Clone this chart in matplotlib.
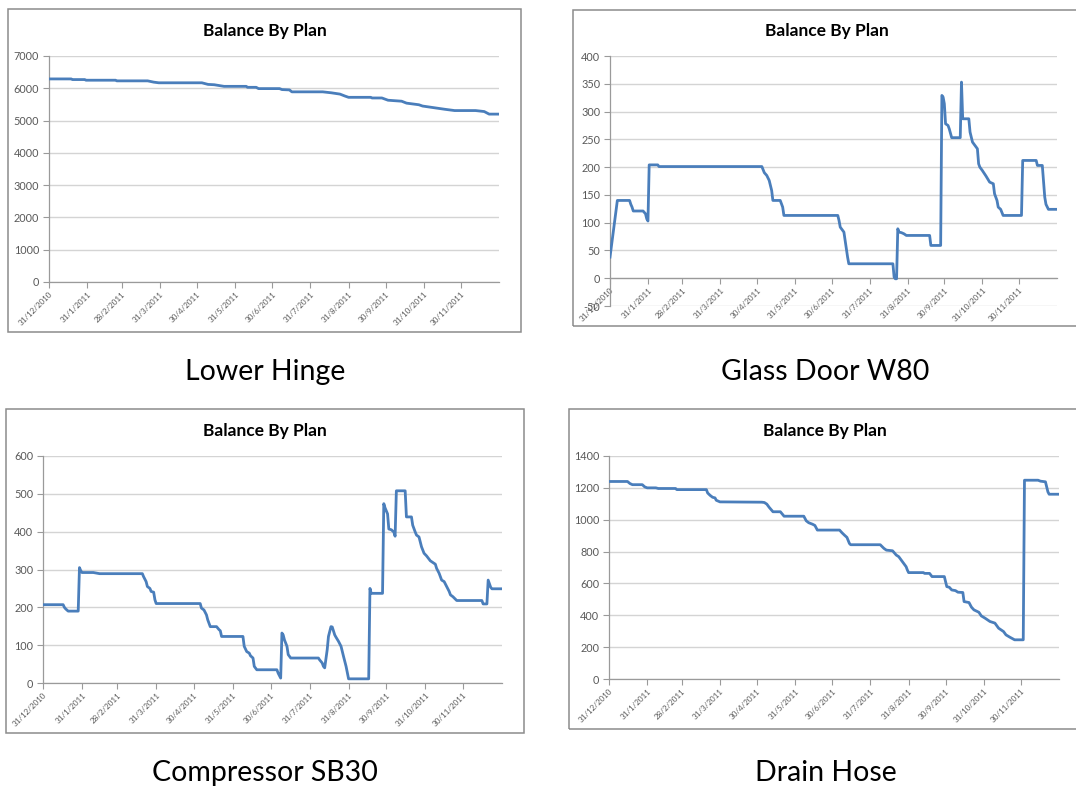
import matplotlib
matplotlib.use("Agg")
import matplotlib.pyplot as plt
from matplotlib.patches import Rectangle
import pandas as pd

plt.rcParams["font.family"] = ["Lato", "DejaVu Sans"]
plt.rcParams["axes.unicode_minus"] = False

W, H = 1076, 791

START = pd.Timestamp("2010-12-31")
END = pd.Timestamp("2011-12-31")

month_ends = ["2010-12-31", "2011-01-31", "2011-02-28", "2011-03-31",
              "2011-04-30", "2011-05-31", "2011-06-30", "2011-07-31",
              "2011-08-31", "2011-09-30", "2011-10-31", "2011-11-30"]

chart_title = "Balance By Plan"

# --- balance series: day offset from 31/12/2010, balance on that day ---
hinge_days = [0, 18, 19, 29, 30, 54, 55, 80, 85, 89, 124, 129, 134, 142,
              160, 161, 168, 170, 187, 189, 195, 197, 222, 229, 236, 240,
              243, 261, 262, 270, 275, 286, 290, 300, 303, 312, 321, 329,
              346, 353, 357, 365]
hinge_bal = [6290, 6290, 6270, 6270, 6250, 6250, 6230, 6230, 6190, 6170,
             6170, 6120, 6110, 6060, 6060, 6030, 6030, 5990, 5990, 5960,
             5950, 5890, 5890, 5860, 5820, 5760, 5720, 5720, 5700, 5700,
             5630, 5600, 5540, 5490, 5450, 5400, 5350, 5310, 5310, 5280,
             5200, 5200]

door_days = [0, 6, 16, 17, 18, 19, 27, 29, 30, 31, 32, 39, 40, 124, 126,
             128, 130, 132, 133, 139, 141, 142, 186, 187, 188, 190, 191,
             192, 194, 195, 231, 232, 233, 234, 235, 236, 238, 240, 242,
             261, 262, 270, 271, 272, 273, 274, 276, 277, 279, 286, 287,
             288, 293, 294, 296, 299, 300, 301, 302, 304, 307, 310, 313,
             314, 316, 317, 319, 321, 336, 337, 348, 349, 353, 355, 356,
             358, 365]
door_bal = [38, 140, 140, 133, 128, 121, 121, 116, 107, 103, 204, 204, 201,
            201, 190, 185, 176, 158, 140, 140, 128, 113, 113, 104, 92, 86,
            83, 68, 38, 26, 26, 2, -1, -1, 89, 83, 82, 80, 77, 77, 59, 59,
            329, 326, 314, 278, 275, 269, 253, 253, 353, 287, 287, 263,
            245, 236, 233, 206, 200, 194, 184, 173, 170, 152, 140, 128,
            124, 113, 113, 212, 212, 203, 203, 146, 133, 124, 124]

comp_days = [0, 16, 17, 18, 20, 28, 29, 30, 31, 40, 45, 79, 80, 82, 83,
             85, 86, 88, 89, 90, 125, 126, 128, 130, 131, 133, 138, 140,
             141, 142, 159, 160, 162, 164, 165, 167, 168, 170, 186, 187,
             189, 190, 191, 192, 194, 195, 197, 219, 220, 222, 223, 224,
             226, 227, 229, 230, 232, 233, 235, 237, 239, 241, 243, 259,
             260, 261, 270, 271, 272, 274, 275, 277, 279, 280, 281, 288,
             289, 293, 294, 296, 297, 299, 301, 303, 305, 308, 312, 313,
             315, 317, 319, 321, 323, 324, 326, 329, 349, 350, 353, 354,
             356, 357, 365]
comp_bal = [207, 207, 200, 196, 190, 190, 305, 297, 292, 292, 289, 289,
            281, 268, 255, 250, 242, 240, 220, 210, 210, 198, 193, 180,
            167, 149, 149, 141, 138, 123, 123, 97, 83, 79, 72, 66, 44, 35,
            35, 26, 13, 132, 127, 114, 97, 75, 66, 66, 61, 53, 44, 40, 88,
            123, 149, 148, 127, 121, 110, 97, 70, 44, 11, 11, 250, 237,
            237, 474, 463, 447, 407, 405, 399, 388, 508, 508, 439, 439,
            417, 399, 391, 386, 360, 343, 336, 323, 314, 303, 290, 272,
            268, 255, 242, 233, 228, 218, 218, 209, 209, 272, 253, 249, 249]

hose_days = [0, 15, 17, 19, 27, 29, 31, 38, 40, 54, 55, 79, 80, 82, 84,
             86, 87, 90, 124, 126, 128, 130, 133, 139, 142, 158, 160, 162,
             165, 167, 169, 187, 189, 191, 193, 195, 196, 220, 223, 225,
             230, 233, 235, 237, 239, 241, 242, 243, 255, 256, 260, 262,
             272, 273, 274, 276, 278, 281, 283, 287, 288, 292, 294, 296,
             300, 302, 305, 309, 313, 316, 320, 322, 325, 329, 336, 337,
             348, 350, 354, 356, 357, 365]
hose_bal = [1240, 1240, 1227, 1220, 1220, 1206, 1200, 1200, 1196, 1196,
            1189, 1189, 1168, 1153, 1141, 1137, 1122, 1112, 1110, 1108,
            1098, 1077, 1050, 1050, 1022, 1022, 993, 981, 972, 964, 935,
            935, 918, 903, 889, 851, 843, 843, 820, 809, 805, 778, 768,
            747, 726, 705, 684, 668, 668, 663, 663, 643, 643, 611, 580,
            576, 559, 555, 545, 543, 486, 480, 451, 434, 419, 396, 382,
            361, 351, 319, 298, 277, 263, 246, 246, 1248, 1248, 1242, 1238,
            1175, 1160, 1160]

panels = [
    dict(caption="Lower Hinge", days=hinge_days, bal=hinge_bal,
         ylim=(0, 7000), ystep=1000),
    dict(caption="Glass Door W80", days=door_days, bal=door_bal,
         ylim=(-50, 400), ystep=50),
    dict(caption="Compressor SB30", days=comp_days, bal=comp_bal,
         ylim=(0, 600), ystep=100),
    dict(caption="Drain Hose", days=hose_days, bal=hose_bal,
         ylim=(0, 1400), ystep=200),
]

# pixel layout: frame box, plot area, title y, caption centre
layout = [
    dict(box=(8, 9, 521, 332), plot=(49, 56, 499, 282), title_y=31,
         cap=(265, 372)),
    dict(box=(573, 10, 1080, 326), plot=(610, 56, 1057, 306), title_y=31,
         cap=(825, 372)),
    dict(box=(6, 409, 524, 733), plot=(43, 456, 502, 683), title_y=431,
         cap=(265, 773)),
    dict(box=(569, 409, 1080, 729), plot=(609, 456, 1059, 679), title_y=431,
         cap=(826, 773)),
]

LINE = "#4a7ebb"
GRID = "#d4d4d4"
AXIS = "#9a9a9a"
LABEL = "#595959"


def px_rect(x0, y0, x1, y1):
    return [x0 / W, 1 - y1 / H, (x1 - x0) / W, (y1 - y0) / H]


fig = plt.figure(figsize=(W / 100, H / 100), dpi=100)
fig.patch.set_facecolor("white")

tick_dates = pd.to_datetime(month_ends)
tick_labels = [f"{d.day}/{d.month}/{d.year}" for d in tick_dates]

for spec, lay in zip(panels, layout):
    bx0, by0, bx1, by1 = lay["box"]
    fig.add_artist(Rectangle((bx0 / W, 1 - by1 / H), (bx1 - bx0) / W,
                             (by1 - by0) / H, transform=fig.transFigure,
                             fill=False, edgecolor="#8c8c8c", linewidth=1.1))
    fig.text((bx0 + bx1) / 2 / W, 1 - lay["title_y"] / H, chart_title,
             ha="center", va="center", fontsize=12.5, fontweight="bold",
             color="black")
    fig.text(lay["cap"][0] / W, 1 - lay["cap"][1] / H, spec["caption"],
             ha="center", va="center", fontsize=20.5, color="black")

    ax = fig.add_axes(px_rect(*lay["plot"]))
    lo, hi = spec["ylim"]

    # spine placement resets the axis, so it goes before tick setup
    for side in ("top", "right"):
        ax.spines[side].set_visible(False)
    for side in ("left", "bottom"):
        ax.spines[side].set_color(AXIS)
        ax.spines[side].set_linewidth(0.9)
    if lo < 0:
        ax.spines["bottom"].set_position(("data", 0))

    dates = START + pd.to_timedelta(spec["days"], unit="D")
    ax.plot(dates, spec["bal"], color=LINE, linewidth=2.0,
            solid_joinstyle="round", zorder=3)

    ax.set_ylim(lo, hi)
    ax.set_yticks(range(lo, hi + 1, spec["ystep"]))
    ax.yaxis.grid(True, color=GRID, linewidth=1.0)
    ax.set_axisbelow(True)

    ax.set_xlim(START, END)
    ax.set_xticks(tick_dates)
    ax.set_xticklabels(tick_labels, rotation=45, ha="right", va="top",
                       rotation_mode="anchor", fontsize=5.8, color=LABEL)

    ax.tick_params(axis="y", length=4, width=0.8, color=AXIS,
                   labelsize=7.8, labelcolor=LABEL, pad=3)
    ax.tick_params(axis="x", length=4, width=0.8, color=AXIS, pad=2)
    ax.set_facecolor("none")

fig.savefig("out.png", dpi=100, facecolor="white")
